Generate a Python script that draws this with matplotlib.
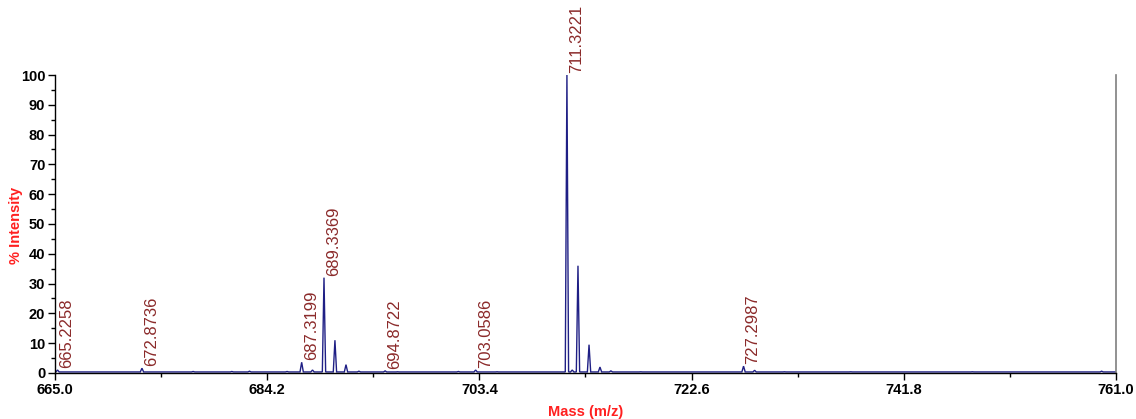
import matplotlib
matplotlib.use("Agg")
import matplotlib.pyplot as plt
from matplotlib.ticker import MultipleLocator, FixedLocator
import numpy as np

plt.rcParams['font.family'] = ['Liberation Sans', 'DejaVu Sans']

# Peak list (m/z, % intensity)
peak_mz = [665.23, 672.87, 677.5, 681.0, 682.6, 686.0, 687.32, 688.3, 689.34,
           690.33, 691.33, 692.5, 694.87, 696.0, 701.5, 703.06, 705.0,
           711.32, 711.8, 712.32, 713.32, 714.31, 715.3, 718.0,
           727.30, 728.3, 731.0, 737.0, 748.0, 759.7]
peak_int = [1.0, 1.6, 0.5, 0.5, 0.6, 0.5, 3.6, 1.0, 32.0,
            11.0, 2.8, 0.6, 0.7, 0.4, 0.5, 1.0, 0.4,
            100.0, 1.0, 36.0, 9.5, 2.0, 0.7, 0.4,
            2.3, 0.9, 0.4, 0.4, 0.4, 0.6]

label_mz = [665.2258, 672.8736, 687.3199, 689.3369, 694.8722, 703.0586, 711.3221, 727.2987]
label_y = [1.0, 1.6, 3.6, 32.0, 0.7, 1.0, 100.0, 2.3]

xmin, xmax = 665.0, 761.0
xticks = [665.0, 684.2, 703.4, 722.6, 741.8, 761.0]
xminor = [674.6, 693.8, 713.0, 732.2, 751.4]
baseline = 0.35
half_width = 0.15

fig = plt.figure(figsize=(11.36, 4.19), dpi=100)
ax = fig.add_axes([0.0484, 0.1098, 0.9340, 0.7112])

# build stick-profile from peak list
order = np.argsort(peak_mz)
xs = [xmin]
ys = [baseline]
for i in order:
    m, h = peak_mz[i], peak_int[i]
    xs += [m - half_width, m, m + half_width]
    ys += [baseline, h, baseline]
xs.append(xmax)
ys.append(baseline)
ax.plot(xs, ys, color='#1f1f85', lw=1.0, solid_joinstyle='miter')

for m, h in zip(label_mz, label_y):
    ax.annotate(f"{m:.4f}", xy=(m, h), xytext=(1.5, 1.5), textcoords='offset points',
                rotation=90, ha='left', va='bottom', fontsize=12,
                color='#8b2a2a', annotation_clip=False)

ax.set_xlim(xmin, xmax)
ax.set_ylim(0, 100)
ax.xaxis.set_major_locator(FixedLocator(xticks))
ax.xaxis.set_minor_locator(FixedLocator(xminor))
ax.yaxis.set_major_locator(MultipleLocator(10))
ax.yaxis.set_minor_locator(MultipleLocator(5))
ax.set_xticklabels([f"{t:.1f}" for t in xticks])

for lab in ax.get_xticklabels() + ax.get_yticklabels():
    lab.set_fontweight('bold')
    lab.set_fontsize(10.5)

ax.tick_params(axis='both', which='major', length=5, width=1, direction='out', pad=2)
ax.tick_params(axis='both', which='minor', length=3, width=1, direction='out')

ax.spines['top'].set_visible(False)
ax.spines['right'].set_color('#7f7f7f')
ax.spines['right'].set_linewidth(1.2)
ax.spines['left'].set_linewidth(1)
ax.spines['bottom'].set_linewidth(1)

ax.set_xlabel('Mass (m/z)', color='#ff2020', fontweight='bold', fontsize=10.5, labelpad=6)
fig.text(16 / 1136, 1 - 225 / 419, '% Intensity', color='#ff2020', fontweight='bold',
         fontsize=10.5, rotation=90, ha='center', va='center')

fig.savefig('out.png', dpi=100)
